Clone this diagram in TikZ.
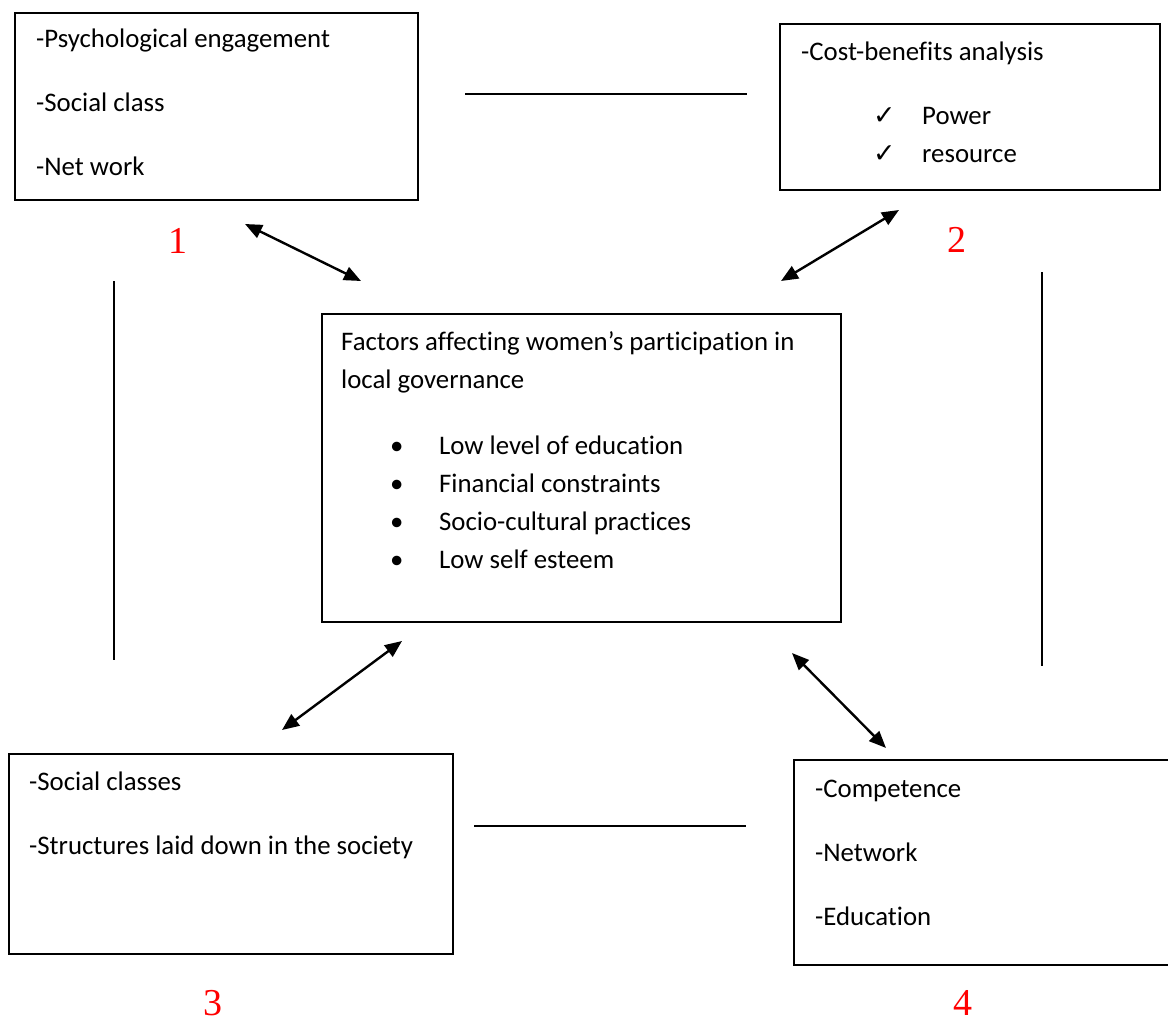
\documentclass[tikz,border=0pt]{standalone}
\usepackage{fontspec}
\setmainfont{Carlito}[Ligatures={NoCommon}]
\newfontfamily\symfont{DejaVu Sans}
\newfontfamily\numfont{Liberation Serif}
\usetikzlibrary{arrows.meta}
\tikzset{
  factorbox/.style={draw, line width=2pt, anchor=north west, inner sep=0pt},
  boxtext/.style={anchor=base west, inner sep=0pt, align=left, font=\fontsize{26.8}{38}\selectfont},
  numlabel/.style={anchor=base, inner sep=0pt, text=red, font=\numfont\fontsize{38}{40}\selectfont},
  linkline/.style={line width=2pt},
  linkarrow/.style={line width=2.4pt, {Triangle[length=17pt,width=14pt]}-{Triangle[length=17pt,width=14pt]}}
}
\newcommand{\bulletitem}[1]{\hspace*{49pt}\makebox[49pt][l]{•}#1}
\newcommand{\tickitem}[1]{\hspace*{72pt}\makebox[49pt][l]{\symfont ✓}#1}
\begin{document}
\begin{tikzpicture}[x=1pt, y=-1pt]
\useasboundingbox (0,0) rectangle (1168,1025);

% the five boxes
\node[factorbox, minimum width=403pt, minimum height=187pt] (psych) at (14,12) {};
\node[factorbox, minimum width=380pt, minimum height=166pt] (cost) at (779,23) {};
\node[factorbox, minimum width=519pt, minimum height=308pt] (factors) at (321,313) {};
\node[factorbox, minimum width=444pt, minimum height=200pt] (social) at (8,753) {};
\node[factorbox, minimum width=390pt, minimum height=205pt] (compet) at (793,759) {};

% box texts (placed at the baseline of their last line)
\node[boxtext] (psychtxt) at (36,175) {-Psychological engagement\\[26pt]-Social class\\[26pt]-Net work};
\node[boxtext] (costtxt) at (801,162) {-Cost-benefits analysis\\[26pt]\tickitem{Power}\\\tickitem{resource}};
\node[boxtext] (factorstxt) at (341,568) {Factors affecting women’s participation in\\local governance\\[28pt]%
  \bulletitem{Low level of education}\\\bulletitem{Financial constraints}\\%
  \bulletitem{Socio-cultural practices}\\\bulletitem{Low self esteem}};
\node[boxtext] (socialtxt) at (29,854) {-Social classes\\[26pt]-Structures laid down in the society};
\node[boxtext] (compettxt) at (815,925) {-Competence\\[26pt]-Network\\[26pt]-Education};

% numbers
\node[numlabel] (n1) at (178,253) {1};
\node[numlabel] (n2) at (957,252) {2};
\node[numlabel] (n3) at (213,1015) {3};
\node[numlabel] (n4) at (963,1015) {4};

% plain lines between the outer boxes
\coordinate (topl) at (465,94);
\coordinate (topr) at (747,94);
\coordinate (botl) at (474,826);
\coordinate (botr) at (746,826);
\coordinate (leftt) at (114,281);
\coordinate (leftb) at (114,660);
\coordinate (rightt) at (1042,272);
\coordinate (rightb) at (1042,666);
\draw[linkline] (topl) -- (topr);
\draw[linkline] (botl) -- (botr);
\draw[linkline] (leftt) -- (leftb);
\draw[linkline] (rightt) -- (rightb);

% arrows to the centre box
\coordinate (a1) at (245,224);
\coordinate (a1c) at (361,281);
\coordinate (a2) at (899,210);
\coordinate (a2c) at (781,281);
\coordinate (a3) at (282,730);
\coordinate (a3c) at (402,641);
\coordinate (a4) at (886,748);
\coordinate (a4c) at (792,653);
\draw[linkarrow] (a1) -- (a1c);
\draw[linkarrow] (a2) -- (a2c);
\draw[linkarrow] (a3) -- (a3c);
\draw[linkarrow] (a4) -- (a4c);
\end{tikzpicture}
\end{document}
